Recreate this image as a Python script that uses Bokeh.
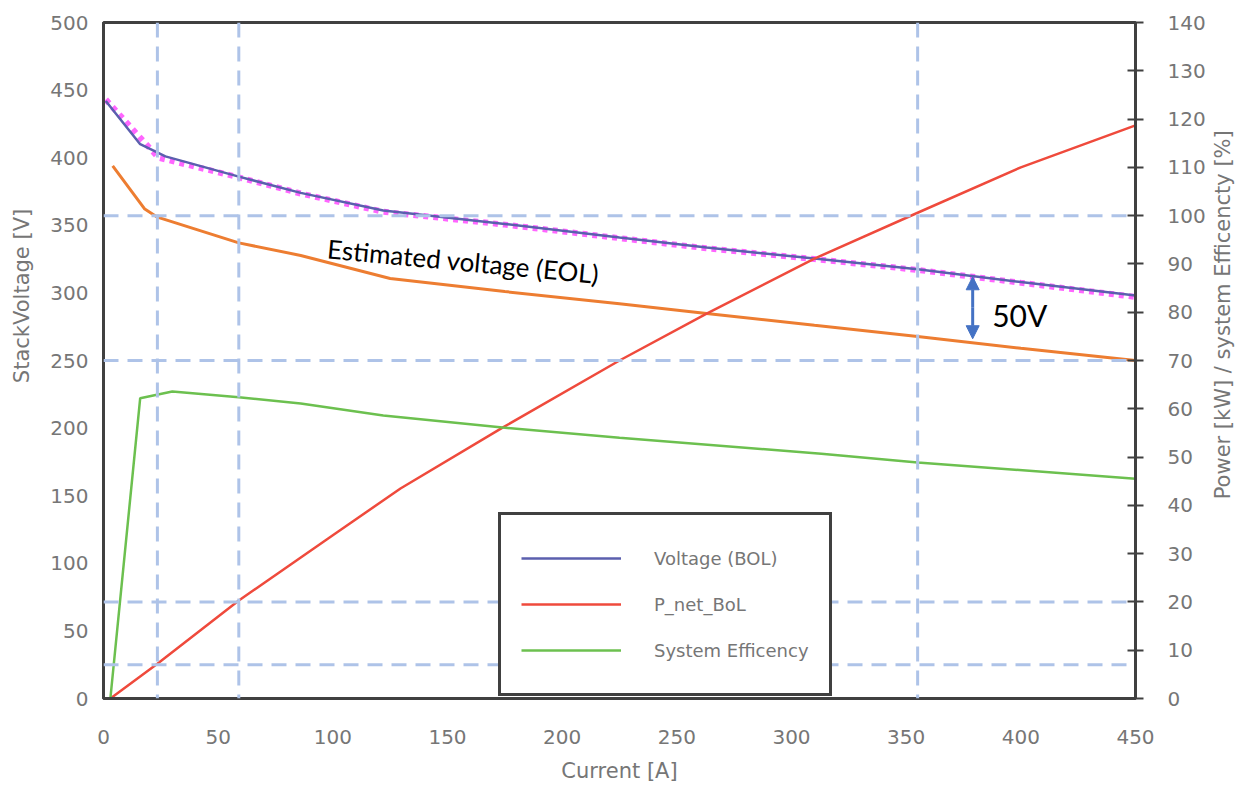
import numpy as np
from bokeh.plotting import figure
from bokeh.layouts import row
from bokeh.models import (Range1d, LinearAxis, Span, Legend, LegendItem, Label,
                          Arrow, NormalHead, FixedTicker)
from bokeh.embed import file_html
from bokeh.resources import INLINE

# ---------------- data ----------------
current_bol = [1, 16, 27, 59, 86, 122, 175, 225, 263, 310, 355, 400, 450]
voltage_bol = [442, 410, 401, 386, 374, 361, 351, 341, 333.5, 325.4, 317.5, 308, 298]

current_ref = [1, 17, 24, 59, 86, 122, 175, 225, 263, 310, 355, 400, 450]
voltage_ref = [443, 413, 400, 385.5, 373.5, 360, 350.5, 340.5, 333, 325, 317, 307.5, 297]

current_eol = [4, 18, 23.5, 59, 86, 125, 175, 225, 263, 310, 355, 400, 450]
voltage_eol = [394, 362, 356, 337, 327.7, 310.6, 301, 292, 284.8, 276, 267.8, 259, 250]

current_pnet = [3, 23.5, 59, 100, 129.5, 174, 225, 263, 310, 355, 400, 450]
power_net = [0, 7.2, 20.3, 33.8, 43.5, 56.1, 70, 79.7, 91.1, 100.6, 110, 118.7]

current_eff = [3, 16, 30, 59, 86, 122, 174, 225, 313, 355, 450]
efficiency = [0, 62.2, 63.6, 62.4, 61.1, 58.6, 56.1, 54.0, 50.7, 48.9, 45.5]

guide_currents = [23.5, 59, 355]
guide_powers = [7, 20, 70, 100]

x_ticks = list(range(0, 451, 50))
y_ticks = list(range(0, 501, 50))
y2_ticks = list(range(0, 141, 10))

arrow_current = 379
# ----------------------------------------------------------------

GRAY = "#767676"
FRAME = "#404040"
FONT = "DejaVu Sans"
H = 791
LEFT_W = 34
RIGHT_W = 32

p = figure(frame_width=1032, frame_height=676,
           min_border_left=103 - LEFT_W, min_border_right=74, min_border_top=22,
           min_border_bottom=H - 22 - 676,
           x_range=Range1d(0, 450), y_range=Range1d(0, 500),
           output_backend="svg", toolbar_location=None)
p.extra_y_ranges = {"right": Range1d(0, 140)}

p.xgrid.visible = False
p.ygrid.visible = False
p.outline_line_color = FRAME
p.outline_line_width = 3
p.outline_line_alpha = 1.0

# axes
xa = p.xaxis[0]
xa.ticker = FixedTicker(ticks=x_ticks)
xa.major_tick_in = 0
xa.major_tick_out = 0
xa.minor_tick_line_color = None
xa.axis_line_color = FRAME
xa.axis_line_width = 3
xa.major_label_standoff = 31
xa.major_label_text_font = FONT
xa.major_label_text_font_size = "20px"
xa.major_label_text_color = GRAY
xa.axis_label = "Current [A]"
xa.axis_label_text_font = FONT
xa.axis_label_text_font_size = "21px"
xa.axis_label_text_font_style = "normal"
xa.axis_label_text_color = GRAY
xa.axis_label_standoff = 12

ya = p.yaxis[0]
ya.ticker = FixedTicker(ticks=y_ticks)
ya.major_tick_in = 0
ya.major_tick_out = 0
ya.minor_tick_line_color = None
ya.axis_line_color = FRAME
ya.axis_line_width = 3
ya.major_label_standoff = 15
ya.major_label_text_font = FONT
ya.major_label_text_font_size = "20px"
ya.major_label_text_color = GRAY

ra = LinearAxis(y_range_name="right", ticker=FixedTicker(ticks=y2_ticks))
ra.major_tick_in = 8
ra.major_tick_out = 8
ra.major_tick_line_color = FRAME
ra.major_tick_line_width = 2
ra.minor_tick_line_color = None
ra.axis_line_color = FRAME
ra.axis_line_width = 3
ra.major_label_standoff = 24
ra.major_label_text_font = FONT
ra.major_label_text_font_size = "20px"
ra.major_label_text_color = GRAY
p.add_layout(ra, "right")

# dashed guide lines
GUIDE = "#aec3e8"
for c in guide_currents:
    p.add_layout(Span(location=c, dimension="height", line_color=GUIDE,
                      line_width=3, line_dash="15 9"))
for pw in guide_powers:
    p.add_layout(Span(location=pw, dimension="width", y_range_name="right",
                      line_color=GUIDE, line_width=3, line_dash="15 9"))

# curves
p.line(current_ref, voltage_ref, line_color="#ff66ff", line_width=6, line_dash="5 5")
r_bol = p.line(current_bol, voltage_bol, line_color="#5b5fae", line_width=2.5)
p.line(current_eol, voltage_eol, line_color="#ed7d31", line_width=3)
r_pnet = p.line(current_pnet, power_net, y_range_name="right",
                line_color="#ef4a3c", line_width=2.5)
r_eff = p.line(current_eff, efficiency, y_range_name="right",
               line_color="#6cc04f", line_width=2.5)

# 50 V arrow between BOL and EOL curves
v_top = float(np.interp(arrow_current, current_bol, voltage_bol)) - 0.5
v_bot = float(np.interp(arrow_current, current_eol, voltage_eol)) + 3
ARROW = "#4472c4"
p.add_layout(Arrow(x_start=arrow_current, y_start=(v_top + v_bot) / 2,
                   x_end=arrow_current, y_end=v_top, line_color=ARROW, line_width=3,
                   end=NormalHead(size=13, fill_color=ARROW, line_color=ARROW)))
p.add_layout(Arrow(x_start=arrow_current, y_start=(v_top + v_bot) / 2,
                   x_end=arrow_current, y_end=v_bot, line_color=ARROW, line_width=3,
                   end=NormalHead(size=13, fill_color=ARROW, line_color=ARROW)))

p.add_layout(Label(x=387.5, y=283.3, text="50V", text_font="Lato", text_font_size="30px",
                   text_color="black", text_baseline="middle", text_align="left"))
p.add_layout(Label(x=97.7, y=333, text="Estimated voltage (EOL)", text_font="Lato",
                   text_font_size="26px", text_color="black", text_baseline="alphabetic",
                   text_align="left", angle=-0.094))

legend = Legend(items=[LegendItem(label="Voltage (BOL)", renderers=[r_bol]),
                       LegendItem(label="P_net_BoL", renderers=[r_pnet]),
                       LegendItem(label="System Efficency", renderers=[r_eff])],
                location=(395, 2), border_line_color=FRAME, border_line_width=3,
                border_line_alpha=1.0,
                background_fill_color="white", background_fill_alpha=1.0,
                label_text_font=FONT, label_text_font_size="18px", label_text_color=GRAY,
                glyph_width=100, glyph_height=46, label_height=46, spacing=0,
                padding=20, label_standoff=33, margin=0)
p.add_layout(legend)


def title_strip(width, text, cx, cy_from_top):
    """A narrow, blank strip that carries one vertical axis title."""
    f = figure(width=width, height=H, x_range=Range1d(0, width), y_range=Range1d(0, H),
               min_border=0, output_backend="svg", toolbar_location=None)
    f.axis.visible = False
    f.grid.visible = False
    f.outline_line_color = None
    f.add_layout(Label(x=cx, y=H - cy_from_top, text=text, text_font=FONT,
                       text_font_size="21px", text_color=GRAY, angle=np.pi / 2,
                       text_align="center", text_baseline="middle"))
    return f


left_strip = title_strip(LEFT_W, "StackVoltage [V]", 21, 320)
right_strip = title_strip(RIGHT_W, "Power [kW] / system Efficencty [%]", 13, 342)

layout = row(left_strip, p, right_strip)

open("out.html", "w").write(file_html(layout, INLINE))
